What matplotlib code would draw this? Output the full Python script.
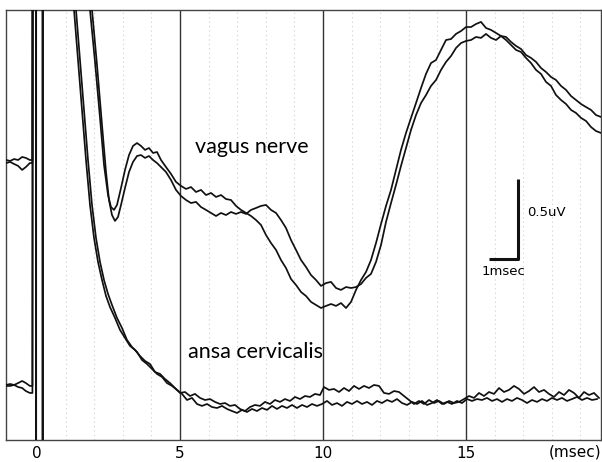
import matplotlib
matplotlib.use("Agg")
import matplotlib.pyplot as plt

# ---- recorded traces (time in msec, amplitude in uV, arbitrary offset) ----
# saturated stimulus artifact around t = 0
ART_T = [-0.13, -0.03, -0.03, 0.20, 0.20]
ART_V = [9.0, 9.0, -9.0, -9.0, 9.0]

# vagus nerve, trial 1 (later response)
vag1_pre_t = [-1.08, -0.94, -0.80, -0.66, -0.52, -0.39, -0.25, -0.16]
vag1_pre_v = [1.731, 1.738, 1.725, 1.713, 1.688, 1.706, 1.731, 1.731]
vag1_t = [1.923, 2.098, 2.273, 2.413, 2.517, 2.622, 2.727, 2.832, 2.937, 3.077,
          3.217, 3.357, 3.497, 3.636, 3.776, 3.916, 4.056, 4.196, 4.336, 4.510,
          4.685, 4.860, 5.035, 5.210, 5.385, 5.559, 5.734, 5.909, 6.084, 6.259,
          6.434, 6.608, 6.783, 6.958, 7.133, 7.308, 7.483, 7.657, 7.832, 8.007,
          8.182, 8.357, 8.531, 8.706, 8.881, 9.056, 9.231, 9.406, 9.580, 9.755,
          9.930, 10.105, 10.280, 10.455, 10.629, 10.804, 10.979, 11.154, 11.329, 11.503,
          11.678, 11.853, 12.028, 12.203, 12.378, 12.552, 12.727, 12.902, 13.077, 13.252,
          13.427, 13.601, 13.776, 13.951, 14.126, 14.301, 14.476, 14.650, 14.825, 15.000,
          15.175, 15.350, 15.524, 15.699, 15.874, 16.049, 16.224, 16.399, 16.573, 16.748,
          16.923, 17.098, 17.273, 17.448, 17.622, 17.797, 17.972, 18.147, 18.322, 18.497,
          18.671, 18.846, 19.021, 19.196, 19.371, 19.545, 19.720]
vag1_v = [2.688, 2.344, 1.969, 1.675, 1.500, 1.406, 1.369, 1.394, 1.469, 1.575,
          1.675, 1.738, 1.775, 1.781, 1.763, 1.775, 1.750, 1.731, 1.706, 1.675,
          1.625, 1.563, 1.525, 1.500, 1.481, 1.488, 1.456, 1.438, 1.419, 1.400,
          1.419, 1.406, 1.425, 1.413, 1.425, 1.413, 1.438, 1.450, 1.463, 1.469,
          1.438, 1.419, 1.375, 1.325, 1.250, 1.188, 1.125, 1.081, 1.031, 1.000,
          0.963, 0.981, 0.988, 0.950, 0.938, 0.956, 0.950, 0.956, 0.975, 1.013,
          1.038, 1.113, 1.219, 1.363, 1.481, 1.594, 1.713, 1.825, 1.938, 2.031,
          2.106, 2.156, 2.213, 2.250, 2.313, 2.363, 2.400, 2.450, 2.481, 2.494,
          2.500, 2.519, 2.513, 2.538, 2.513, 2.500, 2.525, 2.519, 2.488, 2.463,
          2.444, 2.406, 2.388, 2.363, 2.325, 2.300, 2.269, 2.250, 2.213, 2.188,
          2.150, 2.125, 2.100, 2.081, 2.063, 2.031, 2.019]

# vagus nerve, trial 2 (earlier response)
vag2_pre_t = [-1.08, -0.94, -0.80, -0.66, -0.52, -0.39, -0.25, -0.16]
vag2_pre_v = [1.750, 1.744, 1.756, 1.750, 1.769, 1.763, 1.750, 1.750]
vag2_t = [1.853, 2.028, 2.203, 2.343, 2.483, 2.587, 2.692, 2.797, 2.937, 3.077,
          3.217, 3.357, 3.497, 3.636, 3.776, 3.916, 4.056, 4.196, 4.336, 4.510,
          4.685, 4.860, 5.035, 5.210, 5.385, 5.559, 5.734, 5.909, 6.084, 6.259,
          6.434, 6.608, 6.783, 6.958, 7.133, 7.308, 7.483, 7.657, 7.832, 8.007,
          8.182, 8.357, 8.531, 8.706, 8.881, 9.056, 9.231, 9.406, 9.580, 9.755,
          9.930, 10.105, 10.280, 10.455, 10.629, 10.804, 10.979, 11.154, 11.329, 11.503,
          11.678, 11.853, 12.028, 12.203, 12.378, 12.552, 12.727, 12.902, 13.077, 13.252,
          13.427, 13.601, 13.776, 13.951, 14.126, 14.301, 14.476, 14.650, 14.825, 15.000,
          15.175, 15.350, 15.524, 15.699, 15.874, 16.049, 16.224, 16.399, 16.573, 16.748,
          16.923, 17.098, 17.273, 17.448, 17.622, 17.797, 17.972, 18.147, 18.322, 18.497,
          18.671, 18.846, 19.021, 19.196, 19.371, 19.545, 19.720]
vag2_v = [2.688, 2.363, 2.013, 1.719, 1.531, 1.456, 1.438, 1.469, 1.575, 1.688,
          1.781, 1.838, 1.856, 1.838, 1.813, 1.825, 1.794, 1.800, 1.750, 1.706,
          1.663, 1.613, 1.588, 1.569, 1.581, 1.550, 1.563, 1.531, 1.544, 1.519,
          1.531, 1.506, 1.500, 1.463, 1.438, 1.419, 1.400, 1.375, 1.344, 1.281,
          1.231, 1.188, 1.125, 1.075, 1.006, 0.969, 0.925, 0.900, 0.863, 0.844,
          0.825, 0.838, 0.850, 0.838, 0.856, 0.825, 0.863, 0.938, 1.000, 1.050,
          1.125, 1.231, 1.350, 1.463, 1.563, 1.688, 1.813, 1.919, 2.013, 2.106,
          2.200, 2.288, 2.356, 2.375, 2.438, 2.500, 2.506, 2.538, 2.556, 2.581,
          2.581, 2.600, 2.613, 2.575, 2.563, 2.544, 2.525, 2.500, 2.469, 2.438,
          2.425, 2.388, 2.356, 2.313, 2.288, 2.238, 2.213, 2.156, 2.125, 2.100,
          2.063, 2.044, 2.013, 1.994, 1.956, 1.931, 1.919]

# ansa cervicalis, trial 1
ansa1_pre_t = [-1.08, -0.94, -0.80, -0.66, -0.52, -0.39, -0.25, -0.16]
ansa1_pre_v = [0.344, 0.350, 0.344, 0.356, 0.369, 0.356, 0.338, 0.338]
ansa1_t = [1.294, 1.434, 1.573, 1.713, 1.853, 1.993, 2.133, 2.273, 2.413, 2.552,
           2.727, 2.902, 3.077, 3.252, 3.427, 3.601, 3.776, 3.951, 4.126, 4.301,
           4.476, 4.650, 4.825, 5.000, 5.175, 5.350, 5.524, 5.699, 5.874, 6.049,
           6.224, 6.399, 6.573, 6.748, 6.923, 7.098, 7.273, 7.448, 7.622, 7.797,
           7.972, 8.147, 8.322, 8.497, 8.671, 8.846, 9.021, 9.196, 9.371, 9.545,
           9.720, 9.895, 10.035, 10.210, 10.385, 10.560, 10.734, 10.909, 11.084, 11.259,
           11.434, 11.608, 11.783, 11.958, 12.133, 12.308, 12.483, 12.657, 12.832, 13.007,
           13.182, 13.357, 13.531, 13.706, 13.881, 14.056, 14.231, 14.406, 14.580, 14.755,
           14.930, 15.105, 15.280, 15.455, 15.629, 15.804, 15.979, 16.154, 16.329, 16.503,
           16.678, 16.853, 17.028, 17.203, 17.378, 17.552, 17.727, 17.902, 18.077, 18.252,
           18.427, 18.601, 18.776, 18.951, 19.126, 19.301, 19.476, 19.650]
ansa1_v = [2.688, 2.375, 2.063, 1.750, 1.469, 1.263, 1.113, 1.000, 0.900, 0.831,
           0.763, 0.688, 0.638, 0.588, 0.563, 0.525, 0.494, 0.475, 0.425, 0.413,
           0.381, 0.356, 0.325, 0.294, 0.300, 0.275, 0.288, 0.263, 0.250, 0.256,
           0.238, 0.225, 0.231, 0.213, 0.219, 0.194, 0.181, 0.206, 0.219, 0.213,
           0.238, 0.225, 0.250, 0.238, 0.256, 0.244, 0.269, 0.256, 0.275, 0.269,
           0.288, 0.281, 0.331, 0.313, 0.319, 0.300, 0.325, 0.306, 0.338, 0.319,
           0.338, 0.325, 0.344, 0.338, 0.294, 0.288, 0.306, 0.300, 0.275, 0.250,
           0.225, 0.244, 0.225, 0.250, 0.231, 0.244, 0.225, 0.244, 0.231, 0.238,
           0.256, 0.275, 0.263, 0.294, 0.275, 0.300, 0.288, 0.325, 0.300, 0.313,
           0.338, 0.319, 0.288, 0.306, 0.331, 0.300, 0.313, 0.288, 0.269, 0.300,
           0.281, 0.313, 0.294, 0.263, 0.300, 0.281, 0.294, 0.263]

# ansa cervicalis, trial 2
ansa2_pre_t = [-1.08, -0.94, -0.80, -0.66, -0.52, -0.39, -0.25, -0.16]
ansa2_pre_v = [0.338, 0.338, 0.344, 0.331, 0.325, 0.306, 0.294, 0.294]
ansa2_t = [1.364, 1.503, 1.643, 1.783, 1.923, 2.063, 2.203, 2.343, 2.483, 2.622,
           2.797, 2.972, 3.147, 3.322, 3.497, 3.671, 3.846, 4.021, 4.196, 4.371,
           4.545, 4.720, 4.895, 5.070, 5.245, 5.420, 5.594, 5.769, 5.944, 6.119,
           6.294, 6.469, 6.643, 6.818, 6.993, 7.168, 7.343, 7.517, 7.692, 7.867,
           8.042, 8.217, 8.392, 8.566, 8.741, 8.916, 9.091, 9.266, 9.441, 9.615,
           9.790, 9.965, 10.140, 10.315, 10.490, 10.664, 10.839, 11.014, 11.189, 11.364,
           11.538, 11.713, 11.888, 12.063, 12.238, 12.413, 12.587, 12.762, 12.937, 13.112,
           13.287, 13.462, 13.636, 13.811, 13.986, 14.161, 14.336, 14.510, 14.685, 14.860,
           15.035, 15.210, 15.385, 15.559, 15.734, 15.909, 16.084, 16.259, 16.434, 16.608,
           16.783, 16.958, 17.133, 17.308, 17.483, 17.657, 17.832, 18.007, 18.182, 18.357,
           18.531, 18.706, 18.881, 19.056, 19.231, 19.406, 19.580]
ansa2_v = [2.688, 2.375, 2.063, 1.750, 1.469, 1.263, 1.113, 1.000, 0.913, 0.844,
           0.763, 0.700, 0.625, 0.581, 0.550, 0.500, 0.475, 0.444, 0.413, 0.394,
           0.356, 0.338, 0.313, 0.288, 0.250, 0.263, 0.225, 0.213, 0.225, 0.206,
           0.200, 0.213, 0.194, 0.181, 0.169, 0.188, 0.175, 0.194, 0.181, 0.200,
           0.188, 0.213, 0.194, 0.213, 0.200, 0.219, 0.200, 0.219, 0.206, 0.225,
           0.213, 0.225, 0.244, 0.219, 0.231, 0.213, 0.238, 0.225, 0.244, 0.225,
           0.238, 0.219, 0.244, 0.231, 0.250, 0.238, 0.256, 0.231, 0.219, 0.238,
           0.225, 0.244, 0.219, 0.231, 0.250, 0.225, 0.238, 0.225, 0.244, 0.231,
           0.256, 0.244, 0.256, 0.250, 0.263, 0.244, 0.256, 0.238, 0.256, 0.244,
           0.263, 0.250, 0.231, 0.250, 0.238, 0.256, 0.244, 0.263, 0.250, 0.263,
           0.244, 0.256, 0.269, 0.250, 0.263, 0.250, 0.256]

XTICKS = [0, 5, 10, 15]
MAJOR_GRID = [5, 10, 15]
MINOR_GRID = [1, 2, 3, 4, 6, 7, 8, 9, 11, 12, 13, 14, 16, 17, 18, 19]

# scale bar: 1 msec by 0.5 uV
BAR_T0, BAR_DT = 15.82, 1.0
BAR_V0, BAR_DV = 1.131, 0.5

XLIM = (-1.084, 19.72)
YLIM = (0.0, 2.6875)

fig = plt.figure(figsize=(6.02, 4.62), dpi=100)
ax = fig.add_axes([6 / 602, 22 / 462, 595 / 602, 430 / 462])
ax.set_xlim(*XLIM)
ax.set_ylim(*YLIM)

for g in MINOR_GRID:
    ax.axvline(g, color="#cfcfcf", lw=0.8, ls=(0, (1, 3)), zorder=1)
for g in MAJOR_GRID:
    ax.axvline(g, color="#333333", lw=1.0, zorder=1)

trace_kw = dict(color="#111111", lw=1.25, zorder=3, solid_joinstyle="round")
for pre_t, pre_v, t, v in [
    (vag1_pre_t, vag1_pre_v, vag1_t, vag1_v),
    (vag2_pre_t, vag2_pre_v, vag2_t, vag2_v),
    (ansa1_pre_t, ansa1_pre_v, ansa1_t, ansa1_v),
    (ansa2_pre_t, ansa2_pre_v, ansa2_t, ansa2_v),
]:
    ax.plot(pre_t + ART_T + t, pre_v + ART_V + v, **trace_kw)

# scale bar
ax.plot([BAR_T0, BAR_T0 + BAR_DT, BAR_T0 + BAR_DT],
        [BAR_V0, BAR_V0, BAR_V0 + BAR_DV], color="#111111", lw=2.2,
        solid_capstyle="butt", zorder=4)
ax.text(BAR_T0 + BAR_DT + 0.3, BAR_V0 + BAR_DV * 0.58, "0.5uV",
        fontsize=9.5, family="DejaVu Sans", va="center", ha="left")
ax.text(BAR_T0 + BAR_DT * 0.5, BAR_V0 - 0.08, "1msec",
        fontsize=9.5, family="DejaVu Sans", va="center", ha="center")

ax.text(5.52, 1.83, "vagus nerve", fontsize=15.5, family="Lato",
        va="center", ha="left")
ax.text(5.28, 0.55, "ansa cervicalis", fontsize=15.5, family="Lato",
        va="center", ha="left")

ax.set_xticks(XTICKS)
ax.set_xticklabels([str(x) for x in XTICKS], fontsize=11, family="DejaVu Sans")
ax.tick_params(axis="x", length=0, pad=4)
ax.set_yticks([])
ax.text(18.81, -0.075, "(msec)", fontsize=11, family="DejaVu Sans",
        ha="center", va="center")

for side in ["left", "right", "top", "bottom"]:
    ax.spines[side].set_color("#444444")
    ax.spines[side].set_linewidth(1.0)

fig.savefig("out.png", dpi=100)
